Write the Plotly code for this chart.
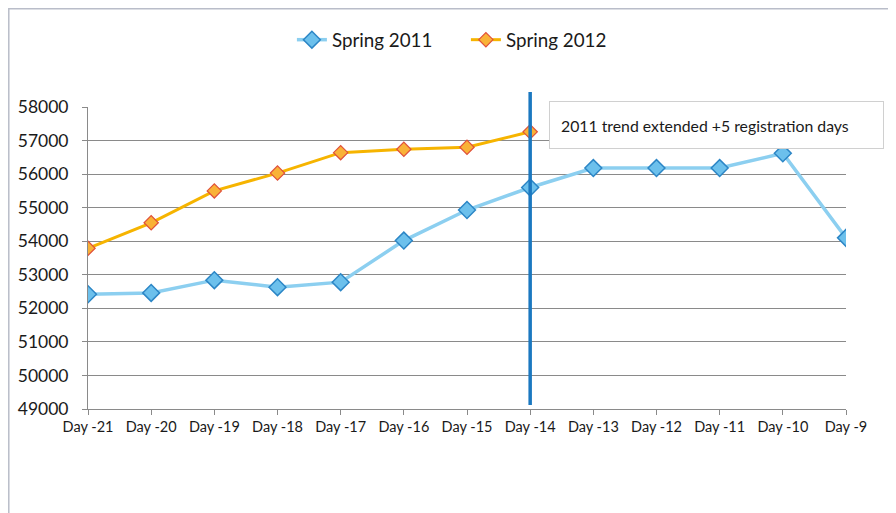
import plotly.graph_objects as go

# Category labels and registration counts
days = ["Day -21", "Day -20", "Day -19", "Day -18", "Day -17", "Day -16", "Day -15",
        "Day -14", "Day -13", "Day -12", "Day -11", "Day -10", "Day -9"]
spring_2011 = [52420, 52460, 52840, 52630, 52780, 54020, 54930,
               55600, 56180, 56180, 56180, 56620, 54100]
spring_2012 = [53790, 54550, 55500, 56030, 56640, 56740, 56800, 57260]
y_ticks = [49000, 50000, 51000, 52000, 53000, 54000, 55000, 56000, 57000, 58000]
note = "2011 trend extended +5 registration days"

fig = go.Figure()

fig.add_trace(
    go.Scatter(
        x=days,
        y=spring_2011,
        name="Spring 2011",
        mode="lines+markers",
        line=dict(color="#8ccff0", width=3.5),
        marker=dict(symbol="diamond", size=13, color="#6cc0ec",
                    line=dict(color="#2c86c6", width=1.5)),
    )
)

fig.add_trace(
    go.Scatter(
        x=days[:len(spring_2012)],
        y=spring_2012,
        name="Spring 2012",
        mode="lines+markers",
        line=dict(color="#f6b400", width=3),
        marker=dict(symbol="diamond", size=11, color="#f9b237",
                    line=dict(color="#e0503a", width=1.2)),
    )
)

# vertical marker at Day -14
fig.add_shape(
    type="line", xref="x", yref="paper",
    x0=days[7], x1=days[7], y0=0.013, y1=1.05,
    line=dict(color="#1b78c0", width=3.5),
)

# outer chart frame (kept just inside the svg so it is not clipped)
fig.add_shape(
    type="rect", xref="paper", yref="paper",
    x0=-0.1045, x1=1.12, y0=-0.36, y1=1.3255,
    line=dict(color="#b9bdc9", width=1.5),
)

fig.add_annotation(
    text=note, xref="paper", yref="paper",
    x=0.608, y=0.94, xanchor="left", yanchor="middle",
    showarrow=False, align="left", width=311, height=24,
    bgcolor="white", bordercolor="#d0d0d0", borderwidth=1, borderpad=11,
    font=dict(family="Lato", size=15.8, color="#1a1a1a"),
)

# page body adds an 8px offset, so margins are trimmed to match
fig.update_layout(
    width=896,
    height=513,
    margin=dict(l=80, r=58, t=99, b=112, autoexpand=False),
    plot_bgcolor="white",
    paper_bgcolor="white",
    font=dict(family="Lato", color="#1a1a1a"),
    showlegend=True,
    legend=dict(
        orientation="h", x=0.269, y=1.222, xanchor="left", yanchor="middle",
        font=dict(size=18.8), entrywidth=129, tracegroupgap=0,
    ),
    xaxis=dict(
        type="category", range=[0, len(days) - 1],
        showgrid=False, showline=True, linecolor="#8a8a8a", linewidth=1,
        ticks="outside", ticklen=5, tickcolor="#8a8a8a",
        tickfont=dict(size=14.5), zeroline=False,
    ),
    yaxis=dict(
        range=[49000, 58000], tickvals=y_ticks, tickformat="d",
        showgrid=True, gridcolor="#8a8a8a", gridwidth=1,
        showline=True, linecolor="#8a8a8a", linewidth=1,
        ticks="outside", ticklen=5, tickcolor="#8a8a8a",
        tickfont=dict(size=17.5), zeroline=False, ticklabelstandoff=10,
    ),
)

fig.write_html("out.html")
